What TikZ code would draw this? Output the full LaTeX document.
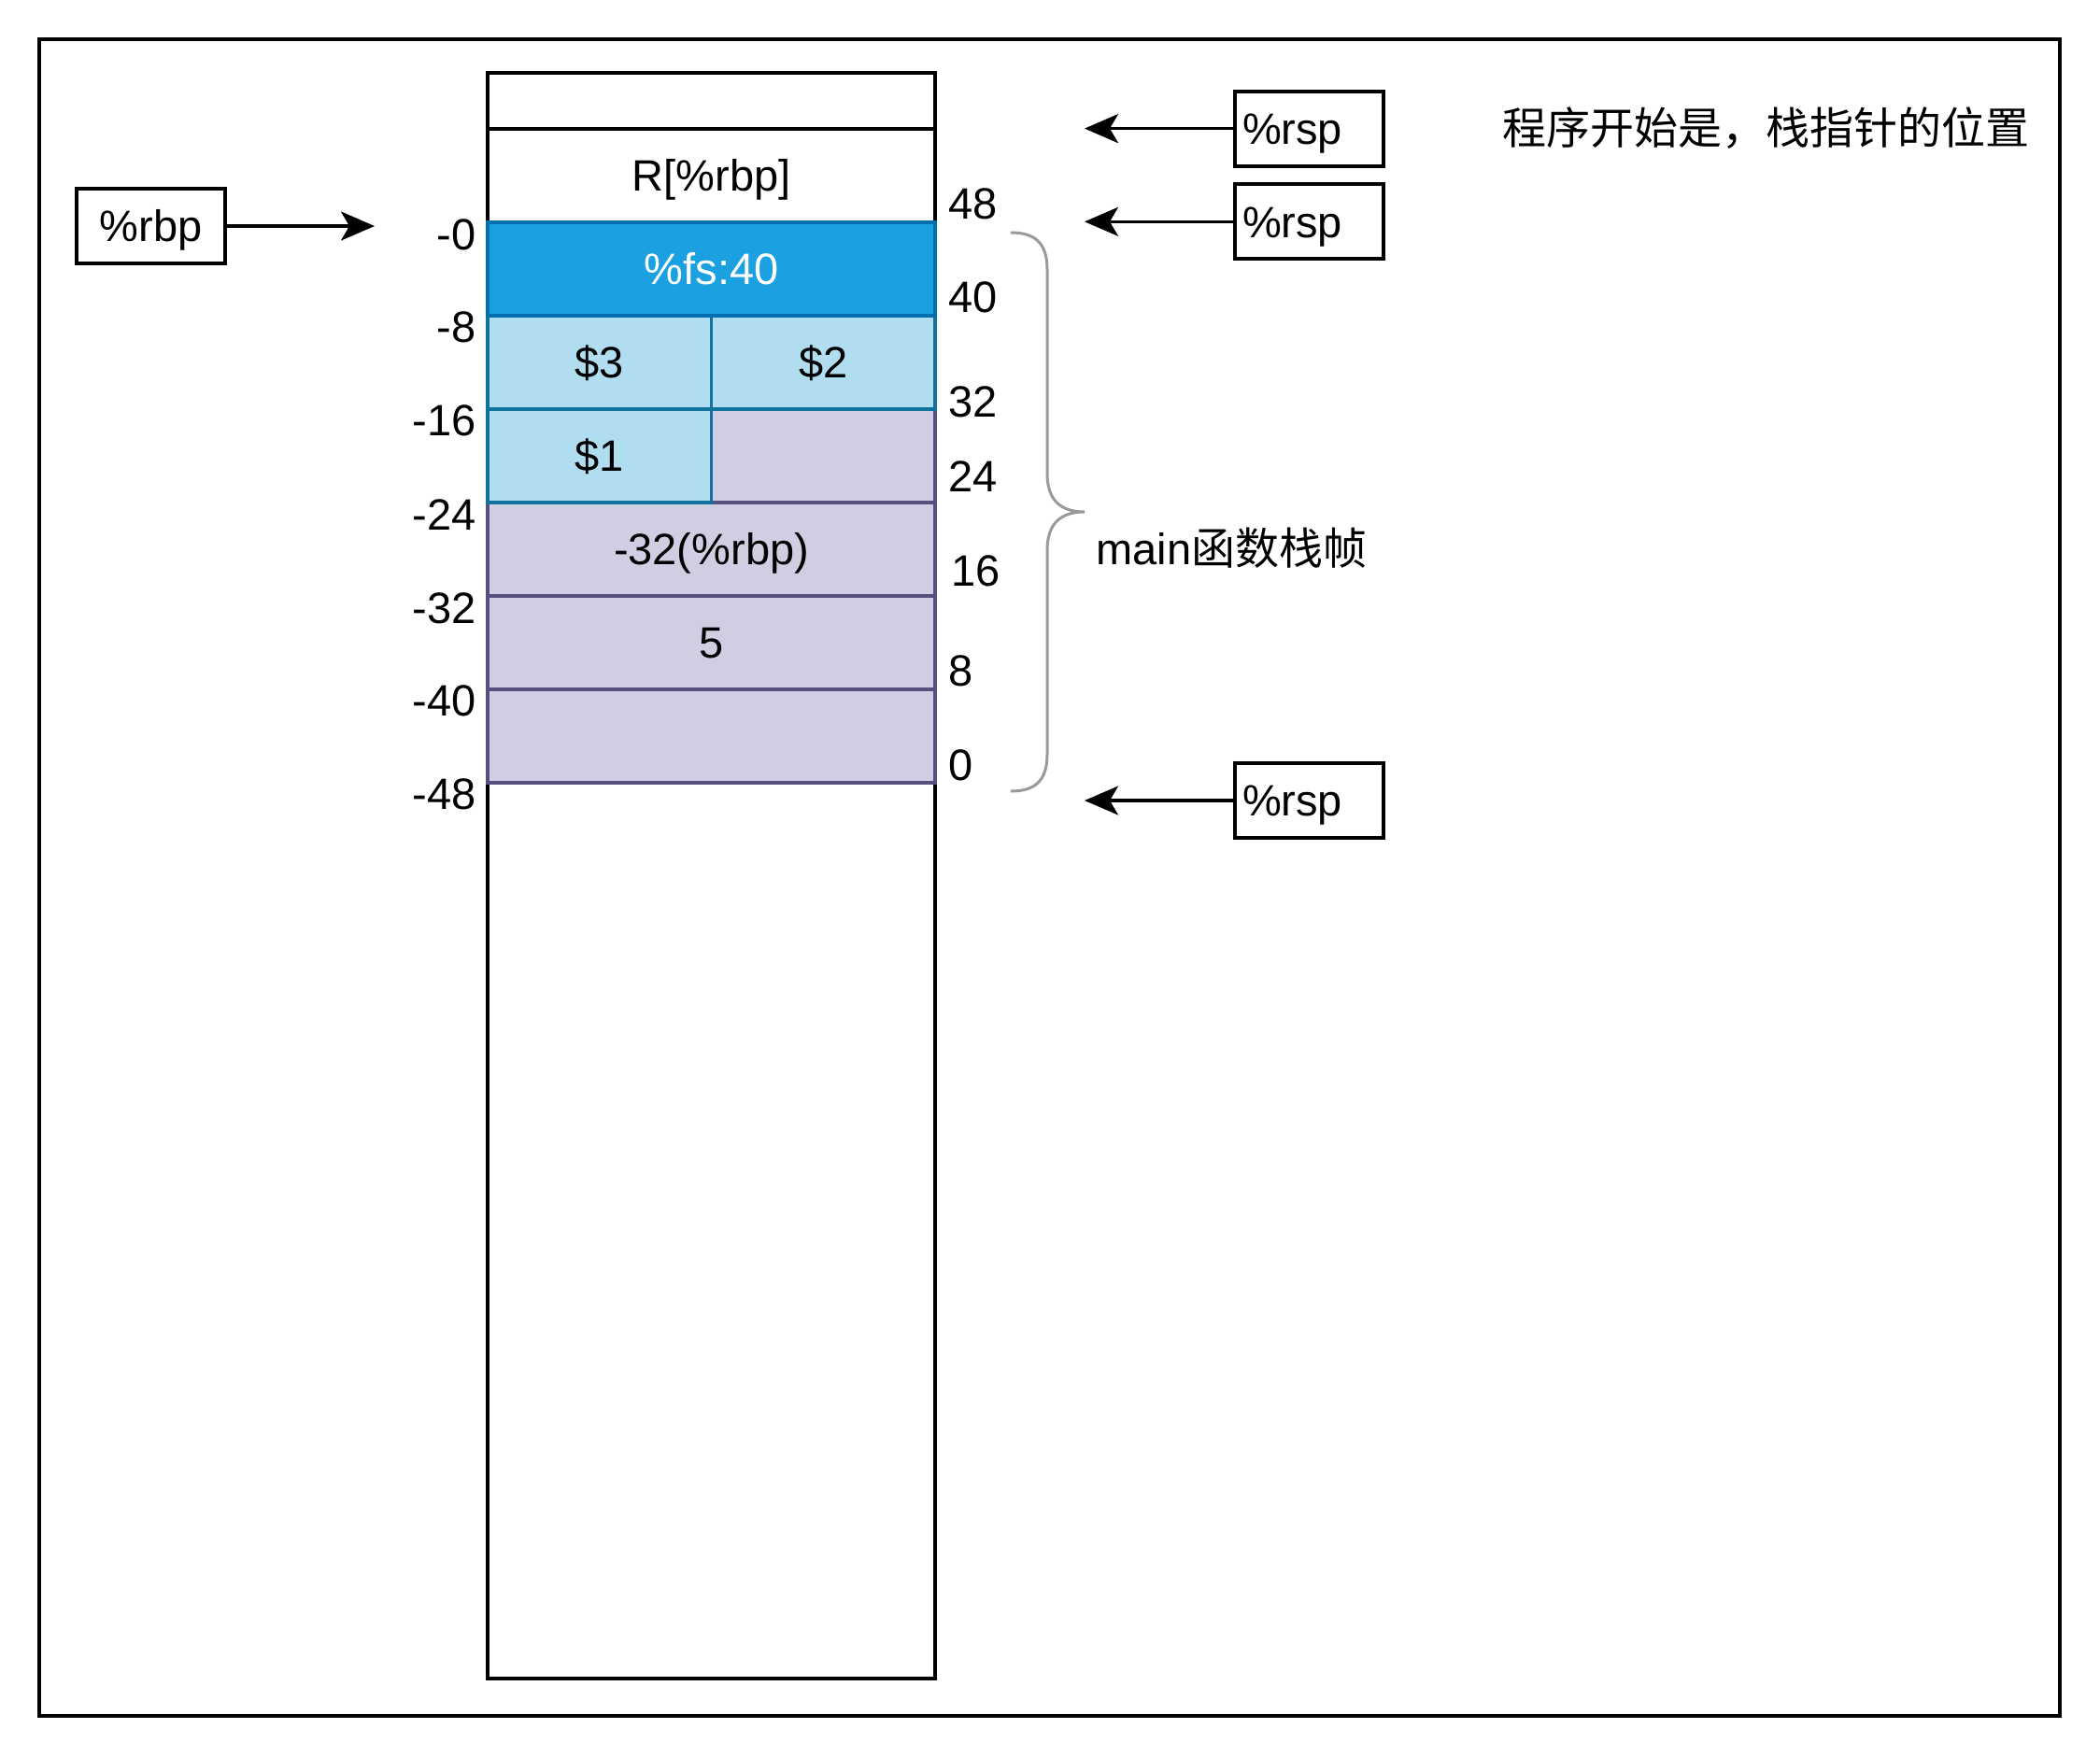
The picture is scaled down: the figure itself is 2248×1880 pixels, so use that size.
\documentclass[tikz,border=0pt]{standalone}
\usepackage{fontspec}
\setmainfont{Liberation Sans}
\newfontfamily\cjk{Noto Sans CJK SC}
\usetikzlibrary{arrows.meta}
\definecolor{fsfill}{HTML}{1BA1E2}
\definecolor{fsline}{HTML}{006EAF}
\definecolor{bfill}{HTML}{B1DDF0}
\definecolor{bline}{HTML}{10739E}
\definecolor{gfill}{HTML}{D0CEE2}
\definecolor{gline}{HTML}{56517E}
\definecolor{bracec}{HTML}{999999}
\tikzset{
  base/.style={font=\fontsize{23.5pt}{28pt}\selectfont, text height=16.8pt, text depth=0pt},
  cell/.style={base, draw=black, fill=white, line width=1.9pt, minimum width=239.5pt, inner sep=0pt},
  halfcell/.style={minimum width=119.75pt},
  fscell/.style={cell, draw=fsline, fill=fsfill, text=white, minimum height=50pt},
  bcell/.style={cell, draw=bline, fill=bfill, minimum height=50pt},
  gcell/.style={cell, draw=gline, fill=gfill, minimum height=50pt},
  regbox/.style={base, draw=black, line width=1.9pt, minimum width=79.5pt, minimum height=40pt, inner sep=0pt},
  rspbox/.style={base, draw=black, line width=1.9pt, text width=71.5pt, inner xsep=4pt, inner ysep=0pt, align=left, minimum height=40pt},
  lbl/.style={base, inner sep=0pt},
  ptr/.style={line width=1.6pt, -{Stealth[length=18pt, width=15.5pt, inset=4.5pt]}},
}
\begin{document}
\begin{tikzpicture}[x=0.5pt, y=-0.5pt]
\useasboundingbox (0,0) rectangle (2248,1880);
\draw[line width=2.1pt] (42,42) rectangle (2205,1837);

% stack column
\node[cell, minimum height=30pt] (top) at (761.5,108) {};
\node[cell, minimum height=50pt] (ret) at (761.5,188) {R[\%rbp]};
\node[cell, minimum height=479.5pt] (rest) at (761.5,1317.5) {};
\node[gcell] (g1) at (761.5,588) {-32(\%rbp)};
\node[gcell] (g2) at (761.5,688) {5};
\node[gcell] (g3) at (761.5,788) {};
\node[gcell, halfcell] (g0) at (881.25,488) {};
\node[bcell, halfcell] (d3) at (641.75,388) {\$3};
\node[bcell, halfcell] (d2) at (881.25,388) {\$2};
\node[bcell, halfcell] (d1) at (641.75,488) {\$1};
\node[fscell] (fs) at (761.5,288) {\%fs:40};

% left offsets
\node[lbl, anchor=east] (l0) at (510,251) {-0};
\node[lbl, anchor=east] (l8) at (510,350) {-8};
\node[lbl, anchor=east] (l16) at (510,450) {-16};
\node[lbl, anchor=east] (l24) at (510,551) {-24};
\node[lbl, anchor=east] (l32) at (510,651) {-32};
\node[lbl, anchor=east] (l40) at (510,750) {-40};
\node[lbl, anchor=east] (l48) at (510,850) {-48};

% right offsets
\node[lbl, anchor=west] (r48) at (1015,218) {48};
\node[lbl, anchor=west] (r40) at (1015,318) {40};
\node[lbl, anchor=west] (r32) at (1015,430) {32};
\node[lbl, anchor=west] (r24) at (1015,510) {24};
\node[lbl, anchor=west] (r16) at (1018,611) {16};
\node[lbl, anchor=west] (r8) at (1015,718) {8};
\node[lbl, anchor=west] (r0) at (1015,819) {0};

% %rbp pointer
\node[regbox] (rbp) at (161.5,242) {\%rbp};
\coordinate (rbpt) at (401,242);
\draw[ptr] (rbp.east) -- (rbpt);

% %rsp pointers
\node[rspbox] (rsp1) at (1401.5,137.6) {\%rsp};
\node[rspbox] (rsp2) at (1401.5,237.3) {\%rsp};
\node[rspbox] (rsp3) at (1401.5,857) {\%rsp};
\coordinate (t1) at (1161,137.6);
\coordinate (t2) at (1161,237.3);
\coordinate (t3) at (1161,857);
\draw[ptr] (rsp1.west) -- (t1);
\draw[ptr] (rsp2.west) -- (t2);
\draw[ptr] (rsp3.west) -- (t3);

\node[lbl, anchor=west] (note) at (1608,137.6) {\cjk 程序开始是，栈指针的位置};

% brace
\draw[bracec, line width=1.5pt]
  (1082,249) .. controls (1110,249) and (1121,262) .. (1121,289)
  -- (1121,507) .. controls (1121,535) and (1135,548) .. (1161,548)
  .. controls (1135,548) and (1121,561) .. (1121,589)
  -- (1121,807) .. controls (1121,834) and (1110,847) .. (1082,847);
\node[lbl, anchor=west] (frame) at (1173,588) {main{\cjk 函数栈帧}};
\end{tikzpicture}
\end{document}
